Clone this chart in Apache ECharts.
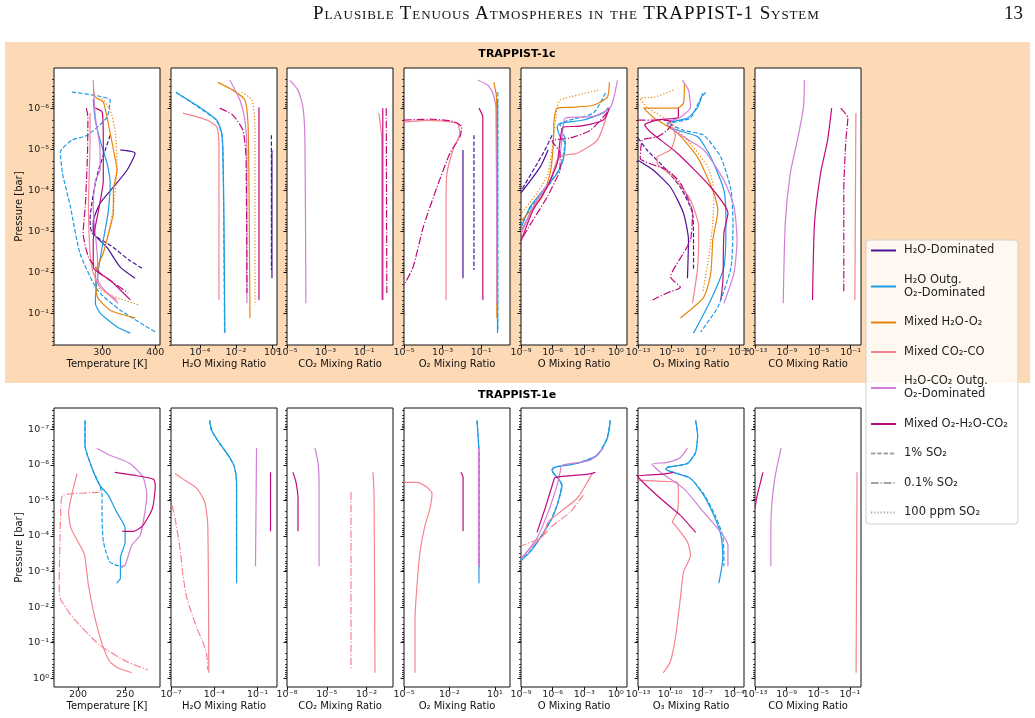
<!DOCTYPE html>
<html>
<head>
<meta charset="utf-8">
<script src="https://cdn.jsdelivr.net/npm/echarts@6/dist/echarts.min.js"></script>
<style>
  html, body { margin: 0; padding: 0; background: #fff; }
  #main { width: 1035px; height: 718px; }
  .hdr { position: absolute; top: 2px; font-family: "Liberation Serif", "DejaVu Serif", serif; font-size: 19px; color: #111; }
  #head { left: 313px; font-variant: small-caps; letter-spacing: 0.9px; }
  #page { left: 1004px; }
</style>
</head>
<body>
<div id="main"></div>
<div class="hdr" id="head">Plausible Tenuous Atmospheres in the TRAPPIST-1 System</div>
<div class="hdr" id="page">13</div>
<script>
// every curve is [x, log10 P(bar)]; x is T (K) or log10 of the mixing ratio

// ---- TRAPPIST-1c : temperature ----
var c_T_h2o = [[334,-4.98],[362,-4.9],[347,-4.49],[321,-4.07],[296,-3.68],[283,-3.22],[283,-2.97],[309,-2.6],[334,-2.12],[362,-1.85]];
var c_T_h2o_1pct = [[315,-5.34],[305,-4.95],[293,-4.49],[283,-3.9],[277,-3.27],[281,-2.95],[321,-2.6],[350,-2.3],[378,-2.07]];
var c_T_o2 = [[283,-6.22],[287,-5.7],[296,-5.22],[309,-4.66],[315,-4.17],[311,-3.44],[302,-2.78],[292,-1.98],[287,-1.24],[296,-1.0],[328,-0.66],[353,-0.51]];
var c_T_o2_1pct = [[243,-6.39],[315,-6.2],[309,-5.78],[272,-5.34],[243,-5.22],[221,-4.93],[225,-4.41],[240,-3.59],[258,-2.46],[291,-1.56],[334,-1.07],[400,-0.54]];
var c_T_mix = [[283,-6.44],[287,-6.27],[302,-6.15],[315,-5.39],[325,-4.73],[328,-4.49],[321,-4.0],[321,-3.44],[315,-3.1],[302,-2.46],[287,-1.98],[291,-1.39],[315,-1.07],[362,-0.88]];
var c_T_mix_100ppm = [[300,-6.24],[315,-5.95],[325,-5.39],[328,-4.56],[321,-3.59],[309,-2.78],[291,-1.98],[296,-1.56],[368,-1.2]];
var c_T_co2co = [[277,-5.88],[277,-5.22],[274,-3.59],[277,-2.46],[283,-1.98],[296,-1.63],[328,-1.32]];
var c_T_co2o2 = [[283,-6.68],[287,-5.78],[296,-4.98],[296,-4.49],[287,-4.24],[283,-3.59],[291,-2.37],[292,-1.8],[309,-1.49],[330,-1.24]];
var c_T_tri = [[287,-6.0],[300,-5.9],[302,-5.22],[302,-4.24],[292,-3.44],[283,-2.78],[283,-2.12],[315,-1.8],[353,-1.32]];
var c_T_tri_01pct = [[270,-6.0],[273,-5.78],[272,-4.8],[268,-3.59],[264,-2.95],[274,-2.37],[296,-1.98],[349,-1.49]];

// ---- TRAPPIST-1c : H2O ----
var c_H2O_h2o = [[0.0,-4.98],[0.0,-1.85]];
var c_H2O_h2o_1pct = [[-0.03,-5.34],[-0.03,-2.05]];
var c_H2O_o2 = [[-5.28,-6.37],[-4.0,-6.02],[-3.06,-5.71],[-2.78,-5.39],[-2.72,-4.98],[-2.67,-3.59],[-2.61,-0.51]];
var c_H2O_o2_1pct = [[-5.33,-6.39],[-4.1,-6.03],[-3.1,-5.71],[-2.8,-5.39],[-2.73,-4.98],[-2.68,-3.59],[-2.63,-0.54]];
var c_H2O_mix = [[-3.0,-6.63],[-2.17,-6.44],[-1.5,-6.2],[-1.33,-5.63],[-1.28,-4.41],[-1.22,-0.88]];
var c_H2O_mix_100ppm = [[-1.67,-6.39],[-1.11,-6.2],[-0.94,-5.54],[-0.94,-1.2]];
var c_H2O_co2co = [[-4.94,-5.88],[-3.61,-5.71],[-3.06,-5.54],[-2.94,-5.05],[-2.94,-1.32]];
var c_H2O_co2o2 = [[-2.33,-6.68],[-1.78,-6.2],[-1.5,-5.71],[-1.39,-4.98],[-1.39,-1.24]];
var c_H2O_tri = [[-0.72,-6.02],[-0.72,-1.32]];
var c_H2O_tri_01pct = [[-2.89,-6.0],[-2.17,-5.83],[-1.61,-5.46],[-1.44,-4.8],[-1.39,-1.49]];

// ---- TRAPPIST-1c : CO2 ----
var c_CO2_co2co = [[-0.23,-5.88],[-0.08,-5.22],[-0.08,-1.32]];
var c_CO2_co2o2 = [[-4.84,-6.68],[-4.43,-6.44],[-4.17,-6.02],[-4.07,-5.22],[-4.02,-1.24]];
var c_CO2_tri = [[-0.03,-6.0],[-0.03,-1.32]];
var c_CO2_tri_01pct = [[0.15,-6.0],[0.18,-1.49]];

// ---- TRAPPIST-1c : O2 ----
var c_O2_h2o = [[-1.94,-4.98],[-1.94,-1.85]];
var c_O2_h2o_1pct = [[-1.37,-5.34],[-1.37,-2.05]];
var c_O2_o2 = [[-0.15,-6.22],[-0.15,-0.51]];
var c_O2_o2_1pct = [[-0.13,-6.39],[-0.13,-0.54]];
var c_O2_mix = [[-0.34,-6.63],[-0.2,-6.27],[-0.18,-0.88]];
var c_O2_mix_100ppm = [[-0.2,-6.39],[-0.17,-1.2]];
var c_O2_co2co = [[-5.0,-5.66],[-3.7,-5.7],[-2.25,-5.63],[-2.1,-5.39],[-2.46,-4.98],[-2.77,-4.41],[-2.82,-3.59],[-2.82,-1.32]];
var c_O2_co2o2 = [[-1.17,-6.68],[-0.65,-6.56],[-0.39,-6.37],[-0.23,-6.02],[-0.18,-1.24]];
var c_O2_tri = [[-1.11,-6.0],[-0.91,-5.78],[-0.91,-5.22],[-0.91,-1.32]];
var c_O2_tri_01pct = [[-5.0,-5.71],[-3.65,-5.73],[-2.46,-5.68],[-2.0,-5.54],[-2.1,-5.3],[-2.62,-4.9],[-3.29,-4.07],[-4.0,-3.1],[-4.53,-2.12],[-5.0,-1.68]];

// ---- TRAPPIST-1c : O ----
var c_O_h2o = [[-6.43,-4.98],[-7.19,-4.56],[-9.0,-3.93]];
var c_O_h2o_1pct = [[-6.05,-5.34],[-6.9,-4.9],[-9.0,-3.98]];
var c_O_o2 = [[-0.71,-6.02],[-1.19,-5.88],[-3.1,-5.71],[-5.29,-5.63],[-5.57,-5.54],[-5.29,-5.3],[-4.81,-5.15],[-5.0,-4.73],[-5.57,-4.41],[-6.9,-4.0],[-8.14,-3.59],[-9.0,-3.08]];
var c_O_o2_1pct = [[-1.0,-6.37],[-2.14,-5.88],[-4.81,-5.68],[-5.29,-5.6],[-4.81,-5.22],[-5.29,-4.56],[-6.52,-4.07],[-7.86,-3.66],[-9.0,-3.18]];
var c_O_mix = [[-0.62,-6.63],[-0.81,-6.27],[-2.14,-6.07],[-4.33,-6.02],[-5.57,-6.0],[-5.86,-5.71],[-5.95,-5.05],[-6.24,-4.41],[-7.0,-3.83],[-8.05,-3.51],[-9.0,-3.24]];
var c_O_mix_100ppm = [[-1.67,-6.44],[-5.29,-6.2],[-5.57,-6.02],[-5.95,-5.22],[-6.43,-4.41],[-7.48,-3.93],[-9.0,-3.42]];
var c_O_co2co = [[-0.71,-5.95],[-1.76,-5.22],[-3.67,-4.9],[-5.0,-4.85],[-5.57,-4.73],[-6.24,-4.24],[-7.48,-3.76],[-9.0,-2.93]];
var c_O_co2o2 = [[0.14,-6.68],[-0.52,-6.02],[-2.14,-5.8],[-4.81,-5.76],[-5.0,-5.54],[-5.29,-4.9],[-6.24,-4.24],[-7.48,-3.76],[-9.0,-3.0]];
var c_O_tri = [[-0.62,-6.0],[-1.19,-5.71],[-3.38,-5.56],[-5.0,-5.54],[-5.29,-5.22],[-5.57,-4.66],[-6.52,-4.07],[-7.86,-3.51],[-9.0,-2.76]];
var c_O_tri_01pct = [[-0.81,-5.9],[-2.43,-5.46],[-4.33,-5.27],[-6.05,-5.2],[-5.29,-4.9],[-5.29,-4.49],[-5.57,-4.32],[-6.52,-3.83],[-7.86,-3.27],[-9.0,-2.78]];

// ---- TRAPPIST-1c : O3 ----
var c_O3_h2o = [[-13,-4.73],[-11.65,-4.49],[-10.1,-4.07],[-8.95,-3.44],[-8.5,-2.78],[-8.59,-1.85]];
var c_O3_h2o_1pct = [[-13,-5.27],[-12.2,-4.98],[-10.7,-4.56],[-9.22,-4.07],[-8.14,-3.44],[-8.05,-2.78],[-8.05,-2.05]];
var c_O3_o2 = [[-7.23,-6.37],[-7.68,-6.02],[-8.59,-5.76],[-10.1,-5.66],[-10.4,-5.59],[-9.49,-5.46],[-7.68,-5.3],[-6.51,-4.8],[-5.34,-4.0],[-5.16,-3.2],[-5.34,-2.12],[-6.51,-1.32],[-8.05,-0.51]];
var c_O3_o2_1pct = [[-6.96,-6.39],[-7.5,-6.2],[-8.32,-5.76],[-10.1,-5.62],[-8.95,-5.46],[-7.14,-5.34],[-5.61,-4.8],[-4.71,-4.0],[-4.53,-3.2],[-4.71,-2.12],[-5.88,-1.15],[-7.41,-0.54]];
var c_O3_mix = [[-8.86,-6.61],[-8.95,-6.12],[-9.49,-6.0],[-11.3,-6.0],[-12.5,-6.0],[-11.65,-5.78],[-9.49,-5.39],[-7.68,-4.8],[-6.24,-3.93],[-5.88,-3.51],[-6.33,-2.78],[-6.51,-1.98],[-7.14,-1.39],[-9.22,-0.88]];
var c_O3_mix_100ppm = [[-9.85,-6.44],[-11.5,-6.27],[-12.8,-6.24],[-12.2,-6.02],[-10.4,-5.71],[-8.59,-5.22],[-6.78,-4.56],[-6.24,-4.0],[-6.33,-3.2],[-6.69,-2.37],[-7.23,-1.49]];
var c_O3_co2co = [[-9.94,-5.54],[-9.67,-5.34],[-10.1,-4.98],[-11.3,-4.8],[-11.3,-4.66],[-9.85,-4.32],[-8.32,-3.76],[-7.59,-3.1],[-7.68,-2.12],[-8.14,-1.24]];
var c_O3_co2o2 = [[-9.04,-6.68],[-8.5,-6.44],[-8.32,-6.02],[-9.22,-5.78],[-10.4,-5.63],[-8.95,-5.3],[-7.14,-4.98],[-5.34,-4.24],[-4.44,-3.59],[-4.17,-2.78],[-4.44,-1.98],[-5.34,-1.24]];
var c_O3_tri = [[-9.4,-6.0],[-9.4,-5.78],[-11.3,-5.71],[-12.4,-5.59],[-11.9,-5.42],[-9.49,-4.9],[-6.51,-4.07],[-4.98,-3.44],[-5.34,-2.95],[-5.43,-1.8],[-5.61,-1.32]];
var c_O3_tri_01pct = [[-13,-5.71],[-11.0,-5.71],[-9.85,-5.66],[-10.4,-5.46],[-11.3,-5.3],[-12.6,-5.22],[-12.8,-4.78],[-10.4,-4.49],[-9.22,-4.17],[-8.14,-3.44],[-8.32,-2.78],[-8.95,-2.46],[-10.1,-1.88],[-9.22,-1.63],[-10.4,-1.49],[-11.7,-1.32]];

// ---- TRAPPIST-1c : CO ----
var c_CO_co2co = [[-0.34,-5.88],[-0.47,-1.32]];
var c_CO_co2o2 = [[-6.8,-6.68],[-6.92,-6.02],[-7.68,-5.22],[-8.57,-4.41],[-9.2,-3.2],[-9.46,-1.24]];
var c_CO_tri = [[-3.38,-6.0],[-3.89,-5.22],[-4.77,-4.41],[-5.53,-3.2],[-5.78,-1.32]];
var c_CO_tri_01pct = [[-2.24,-6.0],[-1.35,-5.76],[-1.6,-5.22],[-1.86,-4.0],[-1.86,-1.49]];

// ---- TRAPPIST-1e : temperature ----
var e_T_o2 = [[207.4,-7.25],[207.4,-6.55],[215,-5.9],[223,-5.43],[232,-5.15],[241,-4.67],[250,-4.22],[250,-3.83],[245,-3.38],[245,-2.81],[241,-2.67]];
var e_T_o2_1pct = [[207.4,-7.25],[207.4,-6.55],[215,-5.9],[223,-5.43],[225.5,-5.15],[225.5,-4.5],[227,-3.83],[234,-3.26],[248,-3.12]];
var e_T_co2co = [[199,-5.76],[194,-5.23],[190,-4.67],[192.5,-4.22],[202,-3.74],[207,-3.46],[211,-2.62],[218,-1.69],[227,-0.85],[234,-0.46],[242,-0.29],[257,-0.15]];
var e_T_co2co_01pct = [[223,-5.23],[184,-5.15],[182,-4.95],[181,-4.02],[180,-2.7],[181,-2.25],[195,-1.69],[223,-0.93],[252,-0.46],[274,-0.23]];
var e_T_co2o2 = [[220,-6.47],[234,-6.27],[255,-6.04],[269,-5.65],[273,-5.15],[271,-4.67],[266,-4.02],[257,-3.74],[250,-3.18],[245,-3.15]];
var e_T_tri = [[239,-5.79],[259,-5.71],[280,-5.6],[282,-5.43],[279,-4.78],[269,-4.3],[259,-4.13],[247,-4.13]];

// ---- TRAPPIST-1e : H2O ----
var e_H2O_o2 = [[-4.31,-7.25],[-4.17,-6.97],[-3.62,-6.61],[-2.93,-6.21],[-2.59,-5.93],[-2.45,-5.51],[-2.45,-2.67]];
var e_H2O_o2_1pct = [[-4.33,-7.25],[-4.2,-6.97],[-3.65,-6.61],[-2.95,-6.21],[-2.6,-5.93],[-2.46,-5.51],[-2.46,-3.12]];
var e_H2O_co2co = [[-6.72,-5.76],[-6.24,-5.62],[-5.21,-5.34],[-4.66,-4.95],[-4.45,-4.3],[-4.38,-0.15]];
var e_H2O_co2co_01pct = [[-6.93,-4.87],[-6.72,-4.5],[-6.38,-3.66],[-6.17,-2.9],[-5.9,-2.25],[-5.21,-1.41],[-4.79,-1.02],[-4.52,-0.65],[-4.45,-0.23]];
var e_H2O_co2o2 = [[-1.07,-6.47],[-1.14,-3.15]];
var e_H2O_tri = [[-0.1,-5.79],[-0.1,-4.13]];

// ---- TRAPPIST-1e : CO2 ----
var e_CO2_co2co = [[-1.51,-5.79],[-1.43,-5.15],[-1.36,-0.15]];
var e_CO2_co2co_01pct = [[-3.17,-5.23],[-3.17,-0.23]];
var e_CO2_co2o2 = [[-5.89,-6.47],[-5.66,-6.07],[-5.58,-5.43],[-5.58,-3.15]];
var e_CO2_tri = [[-7.55,-5.79],[-7.32,-5.51],[-7.17,-5.06],[-7.17,-4.13]];

// ---- TRAPPIST-1e : O2 ----
var e_O2_o2 = [[-0.18,-7.25],[-0.11,-6.83],[-0.05,-6.35],[-0.05,-2.67]];
var e_O2_o2_1pct = [[-0.18,-7.25],[-0.11,-6.83],[-0.05,-6.35],[-0.05,-3.12]];
var e_O2_co2co = [[-5.0,-5.51],[-4.14,-5.51],[-3.48,-5.37],[-3.15,-5.2],[-3.28,-4.78],[-3.61,-4.3],[-3.94,-3.55],[-4.14,-2.62],[-4.27,-1.69],[-4.27,-0.15]];
var e_O2_co2o2 = [[-0.08,-6.47],[-0.08,-3.15]];
var e_O2_tri = [[-1.24,-5.79],[-1.1,-5.65],[-1.1,-4.13]];

// ---- TRAPPIST-1e : O ----
var e_O_o2 = [[-0.52,-7.25],[-0.81,-6.75],[-1.76,-6.27],[-3.67,-6.04],[-5.76,-5.93],[-6.05,-5.85],[-5.76,-5.71],[-5.48,-5.62],[-5.1,-5.43],[-5.48,-4.95],[-6.05,-4.5],[-7.19,-3.94],[-8.14,-3.55],[-9.0,-3.3]];
var e_O_o2_1pct = [[-0.55,-7.25],[-0.85,-6.75],[-1.8,-6.27],[-3.7,-6.05],[-5.8,-5.94],[-6.08,-5.86],[-5.8,-5.71],[-5.5,-5.62],[-5.15,-5.43],[-5.5,-4.95],[-6.1,-4.5],[-7.2,-3.94],[-8.2,-3.55],[-9.0,-3.32]];
var e_O_co2co = [[-2.24,-5.76],[-2.71,-5.51],[-3.67,-5.06],[-5.29,-4.67],[-6.43,-4.39],[-6.9,-4.02],[-7.86,-3.74],[-9.0,-3.36]];
var e_O_co2co_01pct = [[-3.1,-5.15],[-4.33,-4.67],[-5.95,-4.3],[-7.19,-3.94],[-8.8,-3.74],[-9.0,-3.73]];
var e_O_co2o2 = [[-1.19,-6.47],[-2.43,-6.13],[-5.1,-5.99],[-5.29,-5.79],[-5.57,-5.43],[-6.43,-4.67],[-7.48,-3.94],[-9.0,-3.35]];
var e_O_tri = [[-1.95,-5.79],[-2.62,-5.74],[-5.76,-5.65],[-5.95,-5.51],[-6.71,-4.78],[-7.48,-4.1]];

// ---- TRAPPIST-1e : O3 ----
var e_O3_o2 = [[-7.62,-7.25],[-7.43,-6.83],[-7.62,-6.35],[-8.38,-6.04],[-10.26,-5.93],[-10.4,-5.88],[-9.7,-5.79],[-8.1,-5.62],[-6.87,-5.15],[-5.92,-4.58],[-5.26,-4.02],[-5.08,-3.38],[-5.45,-2.67]];
var e_O3_o2_1pct = [[-7.62,-7.25],[-7.43,-6.83],[-7.62,-6.35],[-8.38,-6.04],[-10.26,-5.93],[-10.4,-5.88],[-9.7,-5.79],[-8.1,-5.62],[-6.8,-5.15],[-5.8,-4.58],[-5.1,-4.02],[-4.98,-3.5],[-4.98,-3.15]];
var e_O3_co2co = [[-13,-5.57],[-11.2,-5.54],[-9.32,-5.51],[-9.23,-5.15],[-9.32,-4.67],[-9.79,-4.39],[-9.51,-4.3],[-8.38,-3.83],[-8.1,-3.46],[-8.75,-2.98],[-9.04,-2.25],[-9.51,-1.13],[-9.98,-0.46],[-10.64,-0.15]];
var e_O3_co2o2 = [[-8.38,-6.47],[-9.04,-6.21],[-10.26,-6.07],[-11.68,-6.02],[-10.9,-5.79],[-8.75,-5.34],[-6.87,-4.67],[-5.26,-4.1],[-4.6,-3.74],[-4.6,-3.15]];
var e_O3_tri = [[-9.7,-5.79],[-10.64,-5.74],[-13,-5.68],[-12.53,-5.51],[-10.92,-5.06],[-9.04,-4.58],[-7.62,-4.1]];

// ---- TRAPPIST-1e : CO ----
var e_CO_co2co = [[-0.1,-5.79],[-0.22,-0.15]];
var e_CO_co2o2 = [[-9.7,-6.47],[-10.1,-6.07],[-10.5,-5.62],[-10.85,-4.95],[-11.0,-4.22],[-11.0,-3.15]];
var e_CO_tri = [[-11.99,-5.79],[-12.4,-5.43],[-12.8,-5.06],[-13,-4.78]];

// axis ranges and tick labels
var xNames = ['Temperature [K]', 'H₂O Mixing Ratio', 'CO₂ Mixing Ratio', 'O₂ Mixing Ratio', 'O Mixing Ratio', 'O₃ Mixing Ratio', 'CO Mixing Ratio'];
var xRangeTop = [[209,409],[-5.6,0.28],[-5,0.5],[-5,0.5],[-9,1.05],[-13,-3.55],[-13,0.3]];
var xRangeBot = [[174.5,287],[-7,0.35],[-8,0],[-5,2],[-9,1.05],[-13,-3.1],[-13,0.4]];
var xTicksTop = [[300,400],[-4,-2,0],[-5,-3,-1],[-5,-3,-1],[-9,-6,-3,0],[-13,-10,-7,-4],[-13,-9,-5,-1]];
var xTicksBot = [[200,250],[-7,-4,-1],[-8,-5,-2],[-5,-2,1],[-9,-6,-3,0],[-13,-10,-7,-4],[-13,-9,-5,-1]];
var yRangeTop = [-6.98, -0.22];
var yRangeBot = [-7.6, 0.25];
var yTicksTop = [-6,-5,-4,-3,-2,-1];
var yTicksBot = [-7,-6,-5,-4,-3,-2,-1,0];

var scenarioNames = ['H₂O-Dominated', 'H₂O Outg.\nO₂-Dominated', 'Mixed H₂O-O₂', 'Mixed CO₂-CO', 'H₂O-CO₂ Outg.\nO₂-Dominated', 'Mixed O₂-H₂O-CO₂'];
var so2Names = ['1% SO₂', '0.1% SO₂', '100 ppm SO₂'];

var topCurves = [
  [[c_T_h2o,'h2o','base'],[c_T_h2o_1pct,'h2o','p1'],[c_T_o2,'o2','base'],[c_T_o2_1pct,'o2','p1'],[c_T_mix,'mix','base'],[c_T_mix_100ppm,'mix','ppm'],[c_T_co2co,'co2co','base'],[c_T_co2o2,'co2o2','base'],[c_T_tri,'tri','base'],[c_T_tri_01pct,'tri','p01']],
  [[c_H2O_h2o,'h2o','base'],[c_H2O_h2o_1pct,'h2o','p1'],[c_H2O_o2,'o2','base'],[c_H2O_o2_1pct,'o2','p1'],[c_H2O_mix,'mix','base'],[c_H2O_mix_100ppm,'mix','ppm'],[c_H2O_co2co,'co2co','base'],[c_H2O_co2o2,'co2o2','base'],[c_H2O_tri,'tri','base'],[c_H2O_tri_01pct,'tri','p01']],
  [[c_CO2_co2co,'co2co','base'],[c_CO2_co2o2,'co2o2','base'],[c_CO2_tri,'tri','base'],[c_CO2_tri_01pct,'tri','p01']],
  [[c_O2_h2o,'h2o','base'],[c_O2_h2o_1pct,'h2o','p1'],[c_O2_o2,'o2','base'],[c_O2_o2_1pct,'o2','p1'],[c_O2_mix,'mix','base'],[c_O2_mix_100ppm,'mix','ppm'],[c_O2_co2co,'co2co','base'],[c_O2_co2o2,'co2o2','base'],[c_O2_tri,'tri','base'],[c_O2_tri_01pct,'tri','p01']],
  [[c_O_h2o,'h2o','base'],[c_O_h2o_1pct,'h2o','p1'],[c_O_o2,'o2','base'],[c_O_o2_1pct,'o2','p1'],[c_O_mix,'mix','base'],[c_O_mix_100ppm,'mix','ppm'],[c_O_co2co,'co2co','base'],[c_O_co2o2,'co2o2','base'],[c_O_tri,'tri','base'],[c_O_tri_01pct,'tri','p01']],
  [[c_O3_h2o,'h2o','base'],[c_O3_h2o_1pct,'h2o','p1'],[c_O3_o2,'o2','base'],[c_O3_o2_1pct,'o2','p1'],[c_O3_mix,'mix','base'],[c_O3_mix_100ppm,'mix','ppm'],[c_O3_co2co,'co2co','base'],[c_O3_co2o2,'co2o2','base'],[c_O3_tri,'tri','base'],[c_O3_tri_01pct,'tri','p01']],
  [[c_CO_co2co,'co2co','base'],[c_CO_co2o2,'co2o2','base'],[c_CO_tri,'tri','base'],[c_CO_tri_01pct,'tri','p01']]
];
var botCurves = [
  [[e_T_o2,'o2','base'],[e_T_o2_1pct,'o2','p1'],[e_T_co2co,'co2co','base'],[e_T_co2co_01pct,'co2co','p01'],[e_T_co2o2,'co2o2','base'],[e_T_tri,'tri','base']],
  [[e_H2O_o2,'o2','base'],[e_H2O_o2_1pct,'o2','p1'],[e_H2O_co2co,'co2co','base'],[e_H2O_co2co_01pct,'co2co','p01'],[e_H2O_co2o2,'co2o2','base'],[e_H2O_tri,'tri','base']],
  [[e_CO2_co2co,'co2co','base'],[e_CO2_co2co_01pct,'co2co','p01'],[e_CO2_co2o2,'co2o2','base'],[e_CO2_tri,'tri','base']],
  [[e_O2_o2,'o2','base'],[e_O2_o2_1pct,'o2','p1'],[e_O2_co2co,'co2co','base'],[e_O2_co2o2,'co2o2','base'],[e_O2_tri,'tri','base']],
  [[e_O_o2,'o2','base'],[e_O_o2_1pct,'o2','p1'],[e_O_co2co,'co2co','base'],[e_O_co2co_01pct,'co2co','p01'],[e_O_co2o2,'co2o2','base'],[e_O_tri,'tri','base']],
  [[e_O3_o2,'o2','base'],[e_O3_o2_1pct,'o2','p1'],[e_O3_co2co,'co2co','base'],[e_O3_co2o2,'co2o2','base'],[e_O3_tri,'tri','base']],
  [[e_CO_co2co,'co2co','base'],[e_CO_co2o2,'co2o2','base'],[e_CO_tri,'tri','base']]
];

// ---- styling ----
var COLORS = { h2o: '#4b1397', o2: '#1c9be6', mix: '#e8850e', co2co: '#f7838f', co2o2: '#d17fd6', tri: '#c20b7b' };
var DASH = { base: 'solid', p1: [4.4, 1.9], p01: [7.7, 1.9, 1.2, 1.9], ppm: [1.2, 2] };
var FONT = 'DejaVu Sans';
var LEFTS = [54, 171, 287, 404, 521, 638, 755];
var PW = 106;

function sup(n) {
    var m = {'-':'⁻','0':'⁰','1':'¹','2':'²','3':'³','4':'⁴','5':'⁵','6':'⁶','7':'⁷','8':'⁸','9':'⁹'};
    return String(n).split('').map(function (c) { return m[c]; }).join('');
}
function logLabel(v) { return '10' + sup(Math.round(v)); }
function minorTicks(r) {
    var out = [];
    for (var n = -9; n <= 1; n++) {
        for (var k = 2; k <= 9; k++) {
            var v = n + Math.log10(k);
            if (v > r[0] && v < r[1]) out.push(v);
        }
    }
    return out;
}

var grids = [], xAxes = [], yAxes = [], series = [];

function addRow(top, height, xr, xt, yr, yt, curves) {
    for (var i = 0; i < 7; i++) {
        var gi = grids.length;
        grids.push({ left: LEFTS[i], top: top, width: PW, height: height, show: true,
            backgroundColor: '#fff', borderColor: '#111', borderWidth: 1 });
        var isT = (i === 0);
        xAxes.push({
            type: 'value', gridIndex: gi, position: 'bottom', min: xr[i][0], max: xr[i][1],
            name: xNames[i], nameLocation: 'middle', nameGap: 14,
            nameTextStyle: { fontFamily: FONT, fontSize: 10, color: '#111' },
            axisLine: { show: false, onZero: false },
            splitLine: { show: false },
            axisTick: { show: true, length: 3.5, customValues: xt[i], lineStyle: { color: '#111', width: 1 } },
            axisLabel: { customValues: xt[i], margin: 3, fontFamily: FONT, fontSize: 9.5, color: '#222',
                formatter: isT ? function (v) { return String(v); } : logLabel }
        });
        yAxes.push({
            type: 'value', gridIndex: gi, position: 'left', inverse: true, min: yr[0], max: yr[1],
            name: i === 0 ? 'Pressure [bar]' : '', nameLocation: 'middle', nameGap: 23,
            nameTextStyle: { fontFamily: FONT, fontSize: 10, color: '#111' },
            axisLine: { show: false, onZero: false }, splitLine: { show: false },
            axisTick: { show: true, length: 3.5, customValues: yt, lineStyle: { color: '#111', width: 1 } },
            axisLabel: { show: i === 0, customValues: yt, margin: 5, fontFamily: FONT, fontSize: 9.5, color: '#222', formatter: logLabel }
        });
        yAxes.push({
            type: 'value', gridIndex: gi, position: 'left', offset: 0, inverse: true, min: yr[0], max: yr[1],
            axisLine: { show: false, onZero: false }, splitLine: { show: false }, axisLabel: { show: false },
            axisTick: { show: true, length: 2, customValues: minorTicks(yr), lineStyle: { color: '#111', width: 0.8 } }
        });
        curves[i].forEach(function (c) {
            series.push({
                type: 'line', xAxisIndex: gi, yAxisIndex: 2 * gi, data: c[0],
                symbol: 'none', smooth: 0.2, silent: true, z: 3,
                lineStyle: { color: COLORS[c[1]], width: 1.2, type: DASH[c[2]] }
            });
        });
    }
}

addRow(68, 277, xRangeTop, xTicksTop, yRangeTop, yTicksTop, topCurves);
addRow(408, 279, xRangeBot, xTicksBot, yRangeBot, yTicksBot, botCurves);

// legend-only series
var legendKeys = ['h2o', 'o2', 'mix', 'co2co', 'co2o2', 'tri'];
var legendNames = [];
legendKeys.forEach(function (k, i) {
    legendNames.push(scenarioNames[i]);
    series.push({ type: 'line', name: scenarioNames[i], xAxisIndex: 0, yAxisIndex: 0, data: [], symbol: 'none',
        lineStyle: { color: COLORS[k], width: 1.2, type: 'solid' }, itemStyle: { color: COLORS[k] } });
});
['p1', 'p01', 'ppm'].forEach(function (k, i) {
    legendNames.push(so2Names[i]);
    series.push({ type: 'line', name: so2Names[i], xAxisIndex: 0, yAxisIndex: 0, data: [], symbol: 'none',
        lineStyle: { color: '#a3a3a3', width: 1.2, type: DASH[k] }, itemStyle: { color: '#a3a3a3' } });
});

var chart = echarts.init(document.getElementById('main'));
chart.setOption({
    animation: false,
    backgroundColor: '#fff',
    textStyle: { fontFamily: FONT },
    graphic: [
        { type: 'rect', z: -10, silent: true, shape: { x: 5, y: 42, width: 1025, height: 341 }, style: { fill: '#fdd9b5' } },
        { type: 'text', x: 517, y: 54, silent: true, style: { text: 'TRAPPIST-1c', fill: '#000', align: 'center', verticalAlign: 'middle', font: 'bold 11px "DejaVu Sans"' } },
        { type: 'text', x: 517, y: 395, silent: true, style: { text: 'TRAPPIST-1e', fill: '#000', align: 'center', verticalAlign: 'middle', font: 'bold 11px "DejaVu Sans"' } }
    ],
    legend: {
        data: legendNames, orient: 'vertical', left: 866, top: 240,
        itemWidth: 25, itemHeight: 12, itemGap: 16.5,
        padding: [4, 10, 5, 4], selectedMode: false,
        itemStyle: { opacity: 0 },
        backgroundColor: 'rgba(255,255,255,0.8)', borderColor: '#d0d0d0', borderWidth: 1, borderRadius: 3,
        textStyle: { fontFamily: FONT, fontSize: 11.5, color: '#222', lineHeight: 13, padding: [0, 0, 0, 3] }
    },
    grid: grids,
    xAxis: xAxes,
    yAxis: yAxes,
    series: series
});
</script>
</body>
</html>
